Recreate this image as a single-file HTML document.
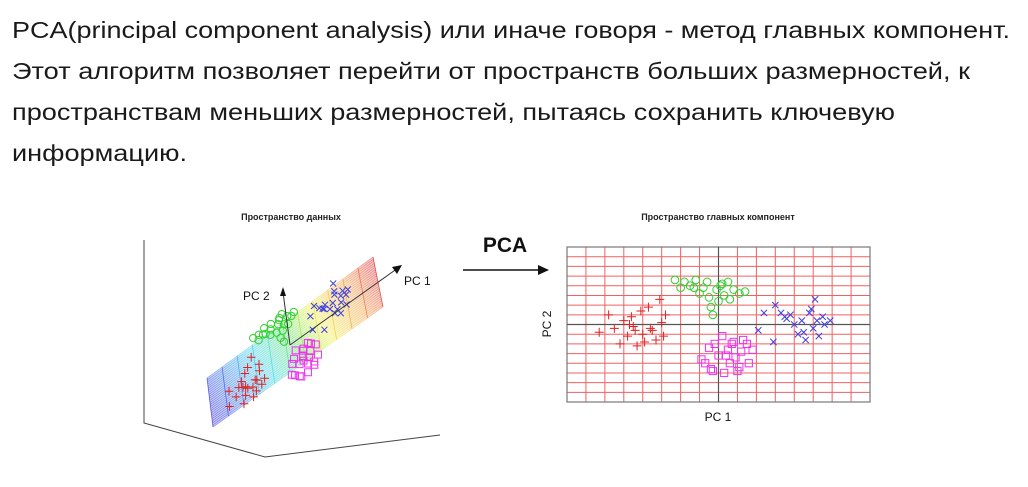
<!DOCTYPE html>
<html><head><meta charset="utf-8"><style>
html,body{margin:0;padding:0;background:#fff;width:1028px;height:487px;overflow:hidden}
svg{display:block}
</style></head><body>
<svg id="root" width="1028" height="487" xmlns="http://www.w3.org/2000/svg">
<g font-family="Liberation Sans, sans-serif" font-size="23" fill="#1a1a1a">
<text x="12" y="38" textLength="998" lengthAdjust="spacingAndGlyphs">PCA(principal component analysis) или иначе говоря - метод главных компонент.</text>
<text x="12" y="79" textLength="958" lengthAdjust="spacingAndGlyphs">Этот алгоритм позволяет перейти от пространств больших размерностей, к</text>
<text x="12" y="120" textLength="883" lengthAdjust="spacingAndGlyphs">пространствам меньших размерностей, пытаясь сохранить ключевую</text>
<text x="12" y="161" textLength="175" lengthAdjust="spacingAndGlyphs">информацию.</text>
</g>
<defs>
<linearGradient id="pg" x1="207" y1="400" x2="380" y2="280" gradientUnits="userSpaceOnUse">
<stop offset="0" stop-color="#3030e0"/><stop offset="0.3" stop-color="#30d0f0"/><stop offset="0.5" stop-color="#60e060"/><stop offset="0.65" stop-color="#f0f040"/><stop offset="0.85" stop-color="#f0a040"/><stop offset="1" stop-color="#e03030"/>
</linearGradient>
</defs>
<g id="left">
<text x="291" y="220" text-anchor="middle" font-family="Liberation Sans, sans-serif" font-size="9" font-weight="bold" fill="#222">Пространство данных</text>
<polyline points="144,240 144,423 265,457 440,435" fill="none" stroke="#444" stroke-width="1"/>
<polygon id="plane" points="207,378 213,427 383,307 373,257" fill="url(#pg)" opacity="0.28"/>
<g id="planegrid" opacity="0.75"></g>
<g id="leftpts"></g>
<line x1="290" y1="345" x2="398" y2="268" stroke="#333" stroke-width="1"/>
<polygon points="402,265 392,267 397,274" fill="#111"/>
<line x1="290" y1="345" x2="283" y2="292" stroke="#333" stroke-width="1"/>
<polygon points="283,287 280,296 286,296" fill="#111"/>
<text x="404" y="285" font-family="Liberation Sans, sans-serif" font-size="12" fill="#111">PC 1</text>
<text x="243" y="300" font-family="Liberation Sans, sans-serif" font-size="12" fill="#111">PC 2</text>
</g>
<g>
<text x="505" y="252" text-anchor="middle" font-family="Liberation Sans, sans-serif" font-size="21" font-weight="bold" fill="#111">PCA</text>
<line x1="463" y1="270" x2="540" y2="270" stroke="#111" stroke-width="1.5"/>
<polygon points="549,270 538,265 538,275" fill="#111"/>
</g>
<g id="right">
<text x="718" y="220" text-anchor="middle" font-family="Liberation Sans, sans-serif" font-size="9" font-weight="bold" fill="#222">Пространство главных компонент</text>
<g id="grid"></g>
<g id="pts"></g>
<text x="718" y="421" text-anchor="middle" font-family="Liberation Sans, sans-serif" font-size="12" fill="#111">PC 1</text>
<text x="551" y="324" text-anchor="middle" font-family="Liberation Sans, sans-serif" font-size="12" fill="#111" transform="rotate(-90 551 324)">PC 2</text>
</g>
</svg>
<script>
// PC-space scatter data (PC1, PC2)
const redX=[-6.3,-5.8,-5.5,-5.2,-5.0,-4.8,-4.6,-4.5,-4.3,-4.1,-4.0,-3.9,-3.7,-3.5,-3.3,-3.1,-3.0,-2.9,-2.8,-4.4,-4.7,-3.6];
const redY=[-0.4,0.5,-0.2,-1.0,0.2,-0.6,0.4,-0.1,-1.1,0.7,-0.5,-0.9,0.9,-0.3,-0.8,1.3,0.1,-0.6,0.5,-0.3,0.0,-0.2];
const greenX=[-2.3,-2.0,-1.8,-1.5,-1.2,-1.0,-0.8,-0.6,-0.5,-0.3,-0.1,0.0,0.1,0.3,0.5,0.6,0.8,1.1,1.4,-0.4,0.2,-1.3];
const greenY=[2.3,1.9,2.2,2.0,2.3,1.6,1.9,2.2,1.4,0.5,1.8,1.2,2.0,1.5,2.2,1.3,1.8,1.6,1.7,0.9,2.1,1.9];
const magX=[-0.9,-0.7,-0.5,-0.3,-0.2,0.0,0.2,0.3,0.5,0.6,0.7,0.9,1.0,1.2,1.3,1.5,1.6,1.8,0.4,-0.4,0.8,1.1];
const magY=[-1.8,-2.0,-1.2,-2.4,-1.0,-1.6,-0.6,-2.5,-1.3,-2.0,-1.0,-1.7,-2.4,-1.4,-0.8,-1.0,-2.0,-1.3,-1.6,-2.3,-0.9,-2.2];
const blueX=[2.1,2.4,2.9,3.0,3.3,3.6,3.8,4.0,4.2,4.4,4.6,4.8,5.0,5.1,5.2,5.3,5.5,5.6,5.9,4.5,4.9,3.5];
const blueY=[-0.3,0.6,-0.9,1.0,0.6,0.3,0.5,0.0,-0.5,0.2,-0.8,0.6,-0.2,1.3,0.2,-0.6,0.4,0.0,0.2,-0.4,0.8,0.4];
const xDomain=[-8,8], yDomain=[-4,4];
const gridCols=16, gridRows=16;
const NS='http://www.w3.org/2000/svg';
const L=567,R=870,T=247,B=402;
function sx(v){return L+(v-xDomain[0])/(xDomain[1]-xDomain[0])*(R-L);}
function sy(v){return B-(v-yDomain[0])/(yDomain[1]-yDomain[0])*(B-T);}
function mk(tag,attrs,parent){const e=document.createElementNS(NS,tag);for(const k in attrs)e.setAttribute(k,attrs[k]);parent.appendChild(e);return e;}
const grid=document.getElementById('grid');
for(let i=0;i<=gridCols;i++){const x=L+i*(R-L)/gridCols;
 const e=mk('line',{x1:x,y1:T,x2:x,y2:B,stroke:'#f06060','stroke-width':1},grid);
 
 }
for(let i=0;i<=gridRows;i++){const y=T+i*(B-T)/gridRows;
 const e=mk('line',{x1:L,y1:y,x2:R,y2:y,stroke:'#f06060','stroke-width':1},grid);
 
 }
const fr=mk('rect',{x:L,y:T,width:R-L,height:B-T,fill:'none',stroke:'#777','stroke-width':1.2},grid);


const a1=mk('line',{x1:sx(0),y1:T,x2:sx(0),y2:B,stroke:'#555','stroke-width':1.2},grid);


const a2=mk('line',{x1:L,y1:sy(0),x2:R,y2:sy(0),stroke:'#555','stroke-width':1.2},grid);


function marker(g,kind,x,y,s){
 let e;
 if(kind==='plus'){e=mk('path',{d:`M${x-s},${y}H${x+s}M${x},${y-s}V${y+s}`,stroke:'#e02020','stroke-width':1,fill:'none'},g);}
 else if(kind==='circle'){e=mk('circle',{cx:x,cy:y,r:s*0.85,stroke:'#30d030','stroke-width':1,fill:'none'},g);}
 else if(kind==='square'){e=mk('rect',{x:x-s*0.8,y:y-s*0.8,width:s*1.6,height:s*1.6,stroke:'#f030f0','stroke-width':1,fill:'none'},g);}
 else {e=mk('path',{d:`M${x-s*0.7},${y-s*0.7}L${x+s*0.7},${y+s*0.7}M${x-s*0.7},${y+s*0.7}L${x+s*0.7},${y-s*0.7}`,stroke:'#4040e0','stroke-width':1,fill:'none'},g);}
 return e;
}
const pts=document.getElementById('pts');
const series=[[redX,redY,'plus','red-cross'],[greenX,greenY,'circle','green-circle'],[magX,magY,'square','magenta-square'],[blueX,blueY,'x','blue-x']];
series.forEach(([xs,ys,k,n])=>{xs.forEach((v,i)=>{const e=marker(pts,k,sx(v),sy(ys[i]),4.5);
 
 });});
// left 3D plane hatching
const pg=document.getElementById('planegrid');
const P0=[207,378],P1=[213,427],P2=[383,307],P3=[373,257];
function lerp(a,b,t){return [a[0]+(b[0]-a[0])*t,a[1]+(b[1]-a[1])*t];}
const colors=['#3030d0','#3040e0','#3090f0','#30c0f0','#30e0e0','#50e080','#a0e040','#e0e030','#f0c030','#f09030','#f05030','#d02020'];
for(let i=0;i<=11;i++){const t=i/11;const a=lerp(P0,P3,t),b=lerp(P1,P2,t);
 const e=mk('line',{x1:a[0],y1:a[1],x2:b[0],y2:b[1],stroke:colors[Math.min(11,Math.floor(t*12))],'stroke-width':0.8},pg);
 
 }
for(let i=0;i<=24;i++){const t=i/24;const a=lerp(P0,P1,t),b=lerp(P3,P2,t);
 const e=mk('line',{x1:a[0],y1:a[1],x2:b[0],y2:b[1],stroke:'url(#pg)','stroke-width':0.5},pg);
 
 }
// left view: project PC data onto plane screen coordinates
const lp=document.getElementById('leftpts');
function lx(a,b){return 290+a*10-b*6;}
function ly(a,b){return 345-a*9-b*12;}
series.forEach(([xs,ys,k,n])=>{xs.forEach((v,i)=>{const e=marker(lp,k,lx(v,ys[i]),ly(v,ys[i]),4.3);
 
 });});
</script>
</body></html>
